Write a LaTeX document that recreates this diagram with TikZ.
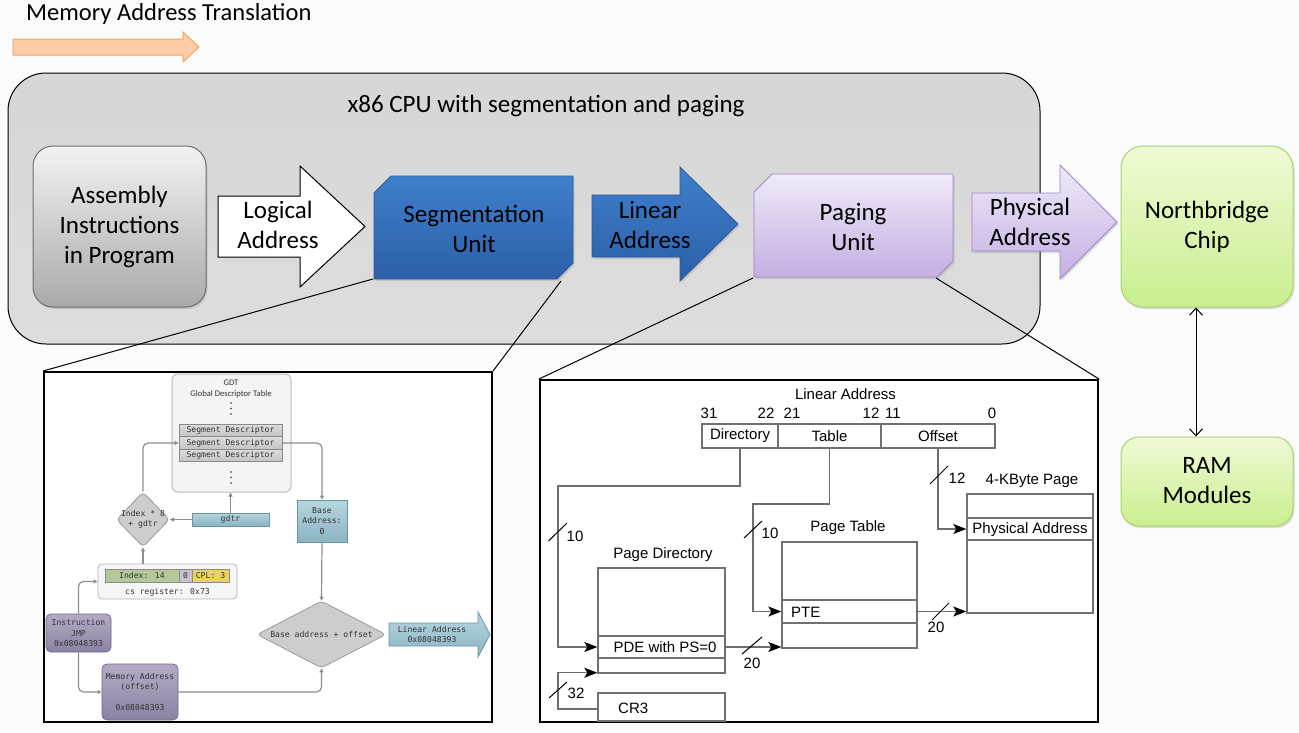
\documentclass[tikz,border=0pt]{standalone}
\usepackage{fontspec}
\setmainfont{Carlito}
\newfontfamily\arialf{Liberation Sans}
\newfontfamily\monof{DejaVu Sans Mono}
\usetikzlibrary{arrows.meta,shapes.geometric,shadows,calc}

\definecolor{bgc}{HTML}{FBFBFB}
\definecolor{orgFill}{HTML}{FCCDA6}
\definecolor{orgLine}{HTML}{F3A565}
\definecolor{cpuTop}{HTML}{D6D6D6}
\definecolor{cpuBot}{HTML}{DDDDDD}
\definecolor{asmTop}{HTML}{F2F2F2}
\definecolor{asmBot}{HTML}{A9A9A9}
\definecolor{asmLine}{HTML}{6E6E6E}
\definecolor{bluTop}{HTML}{3F7FCC}
\definecolor{bluBot}{HTML}{2C5FA8}
\definecolor{bluLine}{HTML}{2A5A98}
\definecolor{lavTop}{HTML}{F0E9F9}
\definecolor{lavBot}{HTML}{C4AFE2}
\definecolor{lavLine}{HTML}{9B86C2}
\definecolor{grnTop}{HTML}{F0FAD6}
\definecolor{grnBot}{HTML}{C9EE8E}
\definecolor{grnLine}{HTML}{A6D46C}
% segmentation inset colours
\definecolor{flowc}{HTML}{8E8E8E}
\definecolor{gdtFill}{HTML}{F4F4F4}
\definecolor{gdtLine}{HTML}{BDBDBD}
\definecolor{rowTop}{HTML}{DCDCDC}
\definecolor{rowBot}{HTML}{C3C3C3}
\definecolor{rowLine}{HTML}{8A8A8A}
\definecolor{tealTop}{HTML}{B7D6E0}
\definecolor{tealBot}{HTML}{8BB3C2}
\definecolor{tealLine}{HTML}{6896A6}
\definecolor{dmdFill}{HTML}{CDCDCD}
\definecolor{dmdLine}{HTML}{9A9A9A}
\definecolor{csFill}{HTML}{F6F6F6}
\definecolor{csLine}{HTML}{B5B5B5}
\definecolor{cellG}{HTML}{B4C899}
\definecolor{cellP}{HTML}{C6C2D6}
\definecolor{cellY}{HTML}{E9D262}
\definecolor{purTop}{HTML}{B3ABC6}
\definecolor{purBot}{HTML}{8C82A4}
\definecolor{purLine}{HTML}{6E6787}
\definecolor{monoText}{HTML}{333333}
% paging inset colours
\definecolor{plc}{HTML}{6E6E6E}
\definecolor{pbox}{HTML}{707070}

\tikzset{
  maintext/.style={font=\fontsize{25}{30}\selectfont, text=black, align=center, inner sep=0pt},
  mono/.style={font=\monof\fontsize{8.1}{10.5}\selectfont, text=monoText, align=center, inner sep=0pt},
  flow/.style={draw=flowc, line width=1.2pt, rounded corners=5pt, -{Triangle[length=4pt,width=4pt]}},
  segrow/.style={draw=rowLine, line width=0.8pt, top color=rowTop, bottom color=rowBot, minimum width=103pt, minimum height=12.5pt, inner sep=0pt, mono},
  tealbox/.style={draw=tealLine, line width=0.8pt, top color=tealTop, bottom color=tealBot, inner sep=0pt, mono},
  purbox/.style={draw=purLine, line width=0.8pt, rounded corners=5pt, top color=purTop, bottom color=purBot, inner sep=0pt, mono},
  graydmd/.style={diamond, draw=dmdLine, line width=0.8pt, fill=dmdFill, rounded corners=4pt, inner sep=0pt},
  gdot/.style={circle, fill=monoText, inner sep=0pt, minimum size=1.8pt},
  cell/.style={draw=rowLine, line width=0.6pt, minimum height=13pt, inner sep=0pt, mono},
  ptext/.style={font=\arialf\fontsize{15}{18}\selectfont, text=black, inner sep=0pt},
  pbx/.style={draw=pbox, line width=1.4pt, inner sep=0pt},
  pline/.style={draw=plc, line width=1.3pt},
  parrow/.style={pline, -{Stealth[length=13pt,width=10pt,inset=3pt,color=black]}},
  slash/.style={draw=black, line width=1pt},
  shadowed/.style={drop shadow={opacity=0.25, shadow xshift=1.5pt, shadow yshift=-2pt}},
}

\begin{document}
\begin{tikzpicture}[x=1pt,y=-1pt]
\useasboundingbox (0,0) rectangle (1299,732);
\fill[bgc] (0,0) rectangle (1299,732);

% ---------- heading ----------
\node[anchor=west, font=\fontsize{24.5}{29}\selectfont, inner sep=0pt] (title) at (26,14) {Memory Address Translation};
\path[fill=orgFill, draw=orgLine, line width=1pt]
  (13,39) -- (183,39) -- (183,32) -- (199,47) -- (183,62) -- (183,55) -- (13,55) -- cycle;

% ---------- CPU enclosure ----------
\node[draw=black, line width=1pt, rounded corners=38pt, top color=cpuTop, bottom color=cpuBot,
      minimum width=1032pt, minimum height=271pt, inner sep=0pt] (cpu) at (524,208.5) {};
\node[maintext] (cpulbl) at (546,106) {x86 CPU with segmentation and paging};

% assembly program box
\node[draw=asmLine, line width=1pt, rounded corners=20pt, top color=asmTop, bottom color=asmBot,
      minimum width=173pt, minimum height=161pt, shadowed] (asm) at (119.5,226.5) {};
\node[maintext] (asmtxt) at (119.5,227) {Assembly\\Instructions\\in Program};

% logical address arrow
\path[draw=black, line width=1pt, fill=white]
  (218,196) -- (300,196) -- (300,166) -- (365,226.5) -- (300,287) -- (300,257) -- (218,257) -- cycle;
\node[maintext] (logtxt) at (278,225) {Logical\\Address};

% segmentation unit
\path[top color=bluTop, bottom color=bluBot, draw=bluLine, line width=0.8pt, shadowed]
  (374,193) -- (391,176) -- (573,176) -- (573,263) -- (557,279) -- (374,279) -- cycle;
\node[maintext] (segu) at (474,229) {Segmentation\\Unit};
\coordinate (segBL) at (373,279);
\coordinate (segBR) at (561,281);

% linear address arrow
\path[top color=bluTop, bottom color=bluBot, draw=bluLine, line width=0.8pt, shadowed]
  (592,195) -- (680,195) -- (680,167) -- (738,224) -- (680,281) -- (680,257) -- (592,257) -- cycle;
\node[maintext] (lintxt) at (650,225) {Linear\\Address};

% paging unit
\path[top color=lavTop, bottom color=lavBot, draw=lavLine, line width=0.8pt, shadowed]
  (754,192) -- (772,174) -- (953,174) -- (953,261) -- (937,277) -- (754,277) -- cycle;
\node[maintext] (pagu) at (853,227) {Paging\\Unit};
\coordinate (pagBL) at (753,278);
\coordinate (pagBR) at (936,278);

% physical address arrow
\path[top color=lavTop, bottom color=lavBot, draw=lavLine, line width=0.8pt, shadowed]
  (972,193) -- (1060,193) -- (1060,165) -- (1117,222) -- (1060,279) -- (1060,251) -- (972,251) -- cycle;
\node[maintext] (phytxt) at (1030,222) {Physical\\Address};

% northbridge and memory
\node[draw=grnLine, line width=1pt, rounded corners=22pt, top color=grnTop, bottom color=grnBot,
      minimum width=172pt, minimum height=161pt, shadowed] (nb) at (1207,226.5) {};
\node[maintext] (nbtxt) at (1207,227) {Northbridge\\Chip};
\node[draw=grnLine, line width=1pt, rounded corners=18pt, top color=grnTop, bottom color=grnBot,
      minimum width=172pt, minimum height=89pt, shadowed] (ram) at (1207,481.5) {};
\node[maintext] (ramtxt) at (1207,481) {RAM\\Modules};
\draw[line width=1pt, {Straight Barb[length=7pt,width=13pt]}-{Straight Barb[length=7pt,width=13pt]}]
  (nb.south -| 1196,0) -- (ram.north -| 1196,0);

% ---------- segmentation detail ----------
\node[draw=black, line width=2pt, fill=white, minimum width=448pt, minimum height=350pt, inner sep=0pt] (segframe) at (268,547) {};
\draw[line width=1pt] (segBL) -- (segframe.north west);
\draw[line width=1pt] (segBR) -- (segframe.north east);

\node[draw=gdtLine, line width=1pt, fill=gdtFill, rounded corners=6pt, minimum width=119pt, minimum height=118pt, inner sep=0pt] (gdt) at (231.5,433) {};
\node[font=\fontsize{8.6}{10}\selectfont, text=monoText, inner sep=0pt] (gdtname) at (231,383) {GDT};
\node[font=\fontsize{8.6}{10}\selectfont, text=monoText, inner sep=0pt] (gdtfull) at (231,394.5) {Global Descriptor Table};
\node[gdot] (ga) at (231,403) {};
\node[gdot] (gb) at (231,408.5) {};
\node[gdot] (gc) at (231,414) {};
\node[segrow] (sd1) at (230.5,430.5) {Segment Descriptor};
\node[segrow] (sd2) at (230.5,443) {Segment Descriptor};
\node[segrow] (sd3) at (230.5,455.5) {Segment Descriptor};
\node[gdot] (gd) at (231,472) {};
\node[gdot] (ge) at (231,477.5) {};
\node[gdot] (gf) at (231,483) {};

\node[tealbox, minimum width=77pt, minimum height=13pt] (gdtr) at (230.5,519.5) {gdtr};
\node[tealbox, minimum width=50pt, minimum height=42pt] (base) at (322,521) {Base\\Address:\\0};
\node[graydmd, minimum width=53pt, minimum height=55pt] (idx) at (143,519.5) {};
\node[mono] (idxtxt) at (143,519.5) {Index * 8\\+ gdtr};

\node[draw=csLine, line width=0.8pt, fill=csFill, rounded corners=4pt, minimum width=139pt, minimum height=35pt, inner sep=0pt] (cs) at (167.5,581.5) {};
\node[cell, fill=cellG, minimum width=74pt] (csidx) at (142,575.5) {Index: 14};
\node[cell, fill=cellP, minimum width=13pt] (csti) at (185.5,575.5) {0};
\node[cell, fill=cellY, minimum width=37pt] (cscpl) at (210.5,575.5) {CPL: 3};
\node[mono] (cslbl) at (167.5,592.5) {cs register: 0x73};

\node[purbox, minimum width=65pt, minimum height=38pt] (instr) at (78.5,633) {Instruction\\JMP\\0x08048393};
\node[purbox, minimum width=76pt, minimum height=56pt] (mem) at (140,692) {Memory Address\\(offset)\\ \\0x08048393};
\node[graydmd, minimum width=129pt, minimum height=67pt] (sum) at (321.5,634.5) {};
\node[mono] (sumtxt) at (321.5,634.5) {Base address + offset};

\path[draw=tealLine, line width=0.8pt, top color=tealTop, bottom color=tealBot]
  (389,623) -- (478,623) -- (478,612) -- (490,634.5) -- (478,657) -- (478,646) -- (389,646) -- cycle;
\node[mono] (linout) at (432,634.5) {Linear Address\\0x08048393};

\draw[flow] (sd2.east) -| (base.north);
\draw[flow] (idx.north) |- (sd2.west);
\draw[flow] (gdtr.north) -- (gdt.south -| gdtr.north);
\draw[flow] (gdtr.west) -- (idx.east);
\draw[flow] (idx.south |- cs.north) -- (idx.south);
\draw[flow] (instr.north) |- (cs.west);
\draw[flow] (instr.south) |- (mem.west);
\draw[flow] (mem.east) -| (sum.south);
\draw[flow] (base.south) -- (sum.north);

% ---------- paging detail ----------
\node[draw=black, line width=2pt, fill=white, minimum width=558pt, minimum height=342pt, inner sep=0pt] (pageframe) at (819,551) {};
\draw[line width=1pt] (pagBL) -- (pageframe.north west);
\draw[line width=1pt] (pagBR) -- (pageframe.north east);

\node[ptext] (latitle) at (845.5,394) {Linear Address};
\node[ptext] (b31) at (709,413) {31};
\node[ptext] (b22) at (766,413) {22};
\node[ptext] (b21) at (792,413) {21};
\node[ptext] (b12) at (871,413) {12};
\node[ptext] (b11) at (893,413) {11};
\node[ptext] (b0) at (992,413) {0};
\node[pbx, minimum width=76pt, minimum height=24pt, ptext] (ladir) at (740,436) {Directory};
\node[pbx, minimum width=103pt, minimum height=24pt, ptext] (latab) at (829.5,436) {Table};
\node[pbx, minimum width=114pt, minimum height=24pt, ptext] (laoff) at (938,436) {Offset};

\node[ptext] (pdlbl) at (663,555) {Page Directory};
\node[pbx, minimum width=127pt, minimum height=105pt] (pd) at (661.5,620.5) {};
\node[pbx, minimum width=127pt, minimum height=22pt] (pde) at (661.5,647) {};
\node[ptext] (pdetxt) at (665,647) {PDE with PS=0};

\node[ptext] (ptlbl) at (848,528) {Page Table};
\node[pbx, minimum width=135pt, minimum height=106pt] (pt) at (849.5,595) {};
\node[pbx, minimum width=135pt, minimum height=23pt] (pte) at (849.5,611.5) {};
\node[ptext, anchor=west] (ptetxt) at (791,612) {PTE};

\node[ptext] (pglbl) at (1032,481) {4-KByte Page};
\node[pbx, minimum width=126pt, minimum height=119pt] (pg) at (1030,553.5) {};
\node[pbx, minimum width=126pt, minimum height=22pt] (pa) at (1030,529) {};
\node[ptext] (patxt) at (1030,530) {Physical Address};

\node[pbx, minimum width=127pt, minimum height=28pt] (cr3) at (661.5,707) {};
\node[ptext, anchor=west] (cr3txt) at (618,708) {CR3};

\coordinate (dirbend) at (558,486);
\coordinate (tabbend) at (753,504);
\coordinate (crbend) at (558,709);
\draw[parrow] (ladir.south) |- (dirbend) |- (pde.west);
\draw[parrow] (latab.south) |- (tabbend) |- (pte.west);
\draw[parrow] (laoff.south) |- (pa.west);
\draw[parrow] (pde.east) -- (pde.east -| pt.west);
\draw[parrow] (pte.east) -- (pte.east -| pg.west);
\draw[parrow] (cr3.west |- crbend) -- (crbend) |- ([yshift=1pt]pd.south west);

% bit-width markers
\draw[slash] (548.5,541) -- (567,523);
\node[ptext] (w1) at (575,536) {10};
\draw[slash] (744,538) -- (762,521);
\node[ptext] (w2) at (770,533) {10};
\draw[slash] (930,484) -- (948,466);
\node[ptext] (w3) at (957,478) {12};
\draw[slash] (932,620) -- (949,603);
\node[ptext] (w4) at (936,627) {20};
\draw[slash] (742,654) -- (762,637);
\node[ptext] (w5) at (752,663) {20};
\draw[slash] (549,698) -- (567,682);
\node[ptext] (w6) at (576,693) {32};
\end{tikzpicture}
\end{document}
